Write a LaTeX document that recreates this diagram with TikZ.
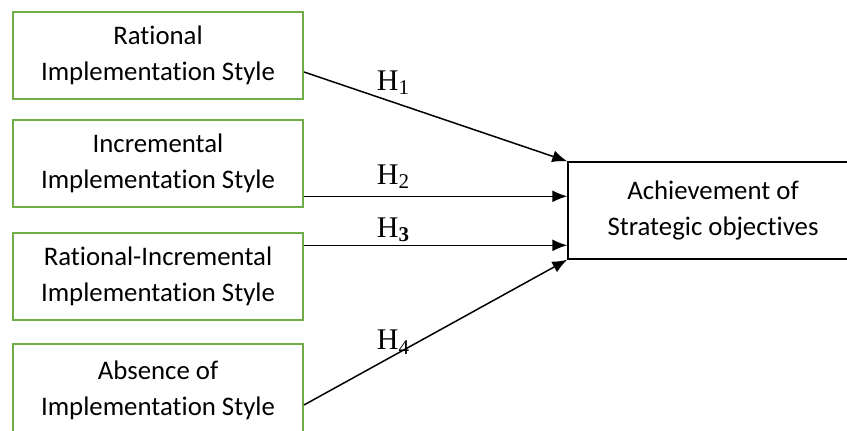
\documentclass[tikz,border=0pt]{standalone}
\usepackage{fontspec}
\setmainfont{Carlito}[Ligatures=NoCommon]
\newfontfamily\hfont{Liberation Serif}
\usetikzlibrary{arrows.meta}
\definecolor{boxgreen}{RGB}{112,173,71}
\tikzset{
	stylebox/.style={draw=boxgreen, line width=1pt, minimum width=145pt, minimum height=43.5pt, inner sep=0pt, align=center, font=\fontsize{13.4}{18}\selectfont},
	goalbox/.style={draw, line width=0.7pt, minimum width=145pt, minimum height=48.5pt, inner sep=0pt, align=center, font=\fontsize{13.4}{18}\selectfont},
	hyp/.style={font=\hfont\fontsize{15}{17}\selectfont},
	arr/.style={line width=0.75pt, -{Latex[length=7.5pt, width=6pt]}}
}
\begin{document}
\begin{tikzpicture}[x=0.5pt, y=0.5pt]
	\useasboundingbox (0, 0) rectangle (847, 431);
	
	\node[stylebox] (rat) at (158, 375.5) {Rational\\Implementation Style};
	\node[stylebox] (inc) at (158, 267.5) {Incremental\\Implementation Style};
	\node[stylebox] (ratinc) at (158, 154.5) {Rational-Incremental\\Implementation Style};
	\node[stylebox, minimum height=46pt] (abs) at (158, 41) {Absence of\\Implementation Style};
	
	\node[goalbox] (goal) at (713, 220.5) {Achievement of\\Strategic objectives};
	
	\coordinate (g2) at ([yshift=-17.5pt]goal.north west);
	\coordinate (g3) at ([yshift=-42pt]goal.north west);
	
	\draw[arr] ([yshift=-8.25pt]rat.east) --node[hyp, above, pos=0.34] (h1) {H\textsubscript{1}} (goal.north west);
	\draw[arr] (inc.east |- g2) --node[hyp, above, pos=0.34] (h2) {H\textsubscript{2}} (g2);
	\draw[arr] (ratinc.east |- g3) --node[hyp, above=-2pt, pos=0.34] (h3) {H\textsubscript{\textbf{3}}} (g3);
	\draw[arr] ([yshift=-7.5pt]abs.east) --node[hyp, above=-3pt, pos=0.34] (h4) {H\textsubscript{4}} (goal.south west);
\end{tikzpicture}
\end{document}
